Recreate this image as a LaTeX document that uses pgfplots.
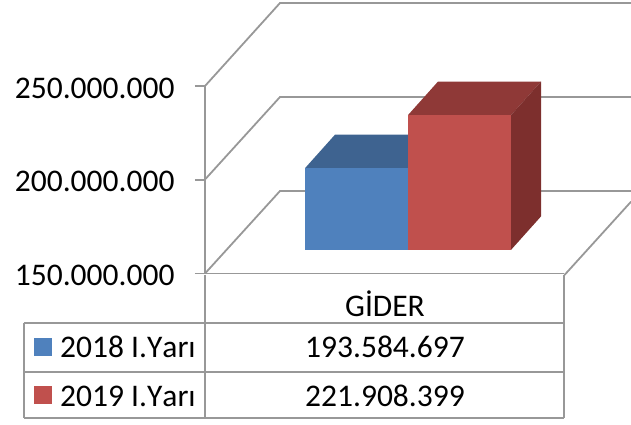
\documentclass[border=0pt]{standalone}
\usepackage{fontspec}
\setmainfont[Kerning=Off]{Carlito}
\usepackage{pgfplots}
\pgfplotsset{compat=1.18}
\definecolor{bluef}{HTML}{4F81BD}
\definecolor{bluet}{HTML}{3E6390}
\definecolor{redf}{HTML}{C0504D}
\definecolor{redt}{HTML}{8F3937}
\definecolor{reds}{HTML}{7D2F2D}
\definecolor{gl}{HTML}{989898}
\begin{document}
\begin{tikzpicture}
\begin{scope}[x=1pt,y=-1pt,shift={(-205pt,273.5pt)}]
\path[use as bounding box] (0,0) rectangle (631,424);
\begin{scope}[draw=gl,line width=1.8pt]
\draw (205,86)--(280,3)--(631,3);
\draw (205,179.5)--(280,97)--(631,97);
\draw (205,273.5)--(280,191)--(631,191);
\draw (564.5,275)--(631,201.7);
\draw (205,275)--(205,418);
\draw (564,275)--(564,418);
\draw (24,323)--(564,323);
\draw (24,372)--(564,372);
\draw (24,418)--(564,418);
\draw (24,323)--(24,418);
\end{scope}
\fill[bluef] (34,338) rectangle (52,356);
\fill[redf] (34,386) rectangle (52,404);
\node[anchor=base west,inner sep=0pt,font=\fontsize{31.5}{36}\selectfont] at (60,357) {2018 I.Yarı};
\node[anchor=base west,inner sep=0pt,font=\fontsize{31.5}{36}\selectfont] at (60,406) {2019 I.Yarı};
\node[anchor=base,inner sep=0pt,font=\fontsize{31.5}{36}\selectfont] at (385,316) {GİDER};
\node[anchor=base,inner sep=0pt,font=\fontsize{31.5}{36}\selectfont] at (385,357) {193.584.697};
\node[anchor=base,inner sep=0pt,font=\fontsize{31.5}{36}\selectfont] at (385,406) {221.908.399};
\end{scope}
\begin{axis}[at={(0,0)},anchor=origin,
  scale only axis,width=359pt,height=187.5pt,
  xmin=205,xmax=564,ymin=150000000,ymax=250000000,
  clip=false,
  axis y line=left,axis x line=bottom,
  axis line style={draw=gl,line width=1.8pt,-},
  xtick=\empty,
  ytick={150000000,200000000,250000000},
  scaled y ticks=false,
  tick style={draw=gl,line width=1.8pt},
  major tick length=10pt,
  tick align=outside,
  yticklabel style={font=\fontsize{31.5}{36}\selectfont,xshift=-17pt,yshift=-2pt,
    /pgf/number format/.cd,fixed,precision=0,1000 sep={.},assume math mode=true},
]
% yshift = depth of the bars inside the chart floor
\addplot[fill=bluet,draw=none,yshift=23.6pt] coordinates {(305,193584697)(408,193584697)(438,211454697)(335,211454697)} --cycle;
\addplot[fill=bluef,draw=none,yshift=23.6pt] coordinates {(305,150000000)(408,150000000)(408,193584697)(305,193584697)} --cycle;
\addplot[fill=redt,draw=none,yshift=23.6pt] coordinates {(408,221908399)(511,221908399)(541,239778399)(438,239778399)} --cycle;
\addplot[fill=reds,draw=none,yshift=23.6pt] coordinates {(511,150000000)(511,221908399)(541,239778399)(541,167870000)} --cycle;
\addplot[fill=redf,draw=none,yshift=23.6pt] coordinates {(408,150000000)(511,150000000)(511,221908399)(408,221908399)} --cycle;
\end{axis}
\end{tikzpicture}
\end{document}
